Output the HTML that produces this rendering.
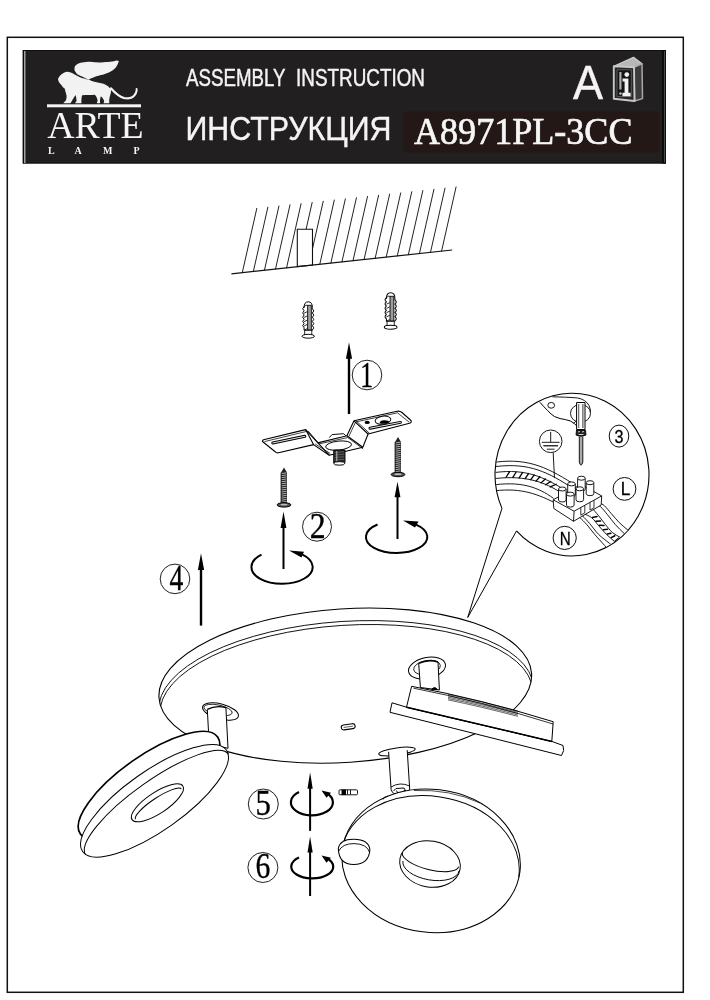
<!DOCTYPE html>
<html><head><meta charset="utf-8">
<style>
html,body{margin:0;padding:0;background:#fff;width:710px;height:1000px;overflow:hidden}
svg{display:block;will-change:transform}
</style></head>
<body>
<svg width="710" height="1000" viewBox="0 0 710 1000">
<rect x="0" y="0" width="710" height="1000" fill="#fff"/>
<rect x="7.3" y="37.3" width="676" height="955" fill="none" stroke="#111" stroke-width="1.5"/>
<rect x="23" y="50" width="643" height="113.5" fill="#211f1f"/>
<rect x="662" y="50" width="4" height="113.5" fill="#0c0c0c"/><rect x="664" y="51" width="0.9" height="111.5" fill="#555"/><rect x="23" y="50" width="643" height="0.8" fill="#0c0c0c"/><rect x="23" y="162.6" width="643" height="0.9" fill="#0c0c0c"/>
<rect x="22.6" y="50" width="1" height="113.5" fill="#000"/>
<rect x="24.2" y="51" width="1.2" height="112" fill="#c4c4c4"/>
<rect x="403" y="111.5" width="256" height="41" fill="#231816"/>
<g fill="#f4f4f4" stroke="#f4f4f4" stroke-width="0.45" font-family="Liberation Sans, sans-serif">
<text x="186" y="85.6" font-size="24" textLength="99.5" lengthAdjust="spacingAndGlyphs">ASSEMBLY</text><text x="296" y="85.6" font-size="24" textLength="129" lengthAdjust="spacingAndGlyphs">INSTRUCTION</text>
<text x="185.5" y="139.7" font-size="33.3" textLength="206" lengthAdjust="spacingAndGlyphs">ИНСТРУКЦИЯ</text>
<text x="573" y="99.2" font-size="48" textLength="30" lengthAdjust="spacingAndGlyphs">A</text>
</g>
<g fill="#f6f6f6" font-family="Liberation Serif, serif">
<text x="414" y="144.4" font-size="38" textLength="218.5" lengthAdjust="spacingAndGlyphs" stroke="#f6f6f6" stroke-width="0.7">A8971PL-3CC</text>
<text x="47.2" y="138" font-size="38" textLength="96.5" lengthAdjust="spacingAndGlyphs">ARTE</text>
<text x="48" y="153.5" font-size="10" font-weight="bold">L</text>
<text x="74.5" y="153.5" font-size="10" font-weight="bold">A</text>
<text x="103" y="153.5" font-size="10" font-weight="bold">M</text>
<text x="133.5" y="153.5" font-size="10" font-weight="bold">P</text>
</g>
<rect x="47" y="104.3" width="94" height="3" fill="#f4f4f4"/>
<g stroke="#222" stroke-width="1" fill="none" stroke-linecap="round"><line x1="256.8" y1="208.4" x2="242.3" y2="272.6"/><line x1="267.87" y1="207.21" x2="253.37" y2="271.41"/><line x1="278.94" y1="206.02" x2="264.44" y2="270.22"/><line x1="290.01" y1="204.83" x2="275.51" y2="269.03"/><line x1="301.08" y1="203.64" x2="286.58" y2="267.84"/><line x1="312.15" y1="202.45" x2="297.65" y2="266.65"/><line x1="323.22" y1="201.26" x2="308.72" y2="265.46"/><line x1="334.29" y1="200.07" x2="319.79" y2="264.27"/><line x1="345.36" y1="198.88" x2="330.86" y2="263.08"/><line x1="356.43" y1="197.69" x2="341.93" y2="261.89"/><line x1="367.5" y1="196.5" x2="353" y2="260.7"/><line x1="378.57" y1="195.31" x2="364.07" y2="259.51"/><line x1="389.64" y1="194.12" x2="375.14" y2="258.32"/><line x1="400.71" y1="192.93" x2="386.21" y2="257.13"/><line x1="411.78" y1="191.74" x2="397.28" y2="255.94"/><line x1="422.85" y1="190.55" x2="408.35" y2="254.75"/><line x1="433.92" y1="189.36" x2="419.42" y2="253.56"/><line x1="444.99" y1="188.17" x2="430.49" y2="252.37"/><line x1="456.06" y1="186.98" x2="441.56" y2="251.18"/></g>
<polygon points="297.3,229.3 312.5,229.3 312.5,265 297.3,266.6" fill="#fff" stroke="#111" stroke-width="1.1"/>
<line x1="231.4" y1="273.8" x2="452.1" y2="250" stroke="#111" stroke-width="1.2"/>
<g transform="translate(302,301.5) scale(1.04,1.01)" stroke="#000" stroke-width="0.95" fill="#fff" stroke-linejoin="round"><path d="M2,28.5 L2,26 Q-0.6,23.9 2,21.8 Q-0.6,19.7 2,17.6 Q-0.6,15.5 2,13.4 Q-0.6,11.3 2,9.2 Q-0.6,7.1 2,5 L2,6 Q2,0.3 6,0.3 Q10,0.3 10,6 L10,7.2 Q12.6,9.3 10,11.4 L10,11.4 Q12.6,13.5 10,15.6 L10,15.6 Q12.6,17.7 10,19.8 L10,19.8 Q12.6,21.9 10,24 L10,24 Q12.6,26.1 10,28.2 L10,28.5 Z"/><line x1="2" y1="11.6" x2="5.2" y2="10" stroke-width="0.8"/><line x1="2" y1="15.8" x2="5.2" y2="14.2" stroke-width="0.8"/><line x1="2" y1="20" x2="5.2" y2="18.4" stroke-width="0.8"/><line x1="2" y1="24.2" x2="5.2" y2="22.6" stroke-width="0.8"/><line x1="2" y1="28.4" x2="5.2" y2="26.8" stroke-width="0.8"/><rect x="5.4" y="3.8" width="3.6" height="24.5" fill="#9d9d9d" stroke-width="0.85"/><path d="M2.3,5 Q3.5,3 5.4,3.8" fill="none" stroke-width="0.8"/><rect x="2.6" y="28.5" width="6.8" height="4.6" fill="#fff" stroke-width="0.85"/><ellipse cx="6" cy="34.4" rx="6" ry="1.9" fill="#fff" stroke-width="0.95"/></g>
<g transform="translate(384.3,292.5) scale(1.06,1.01)" stroke="#000" stroke-width="0.95" fill="#fff" stroke-linejoin="round"><path d="M2,28.5 L2,26 Q-0.6,23.9 2,21.8 Q-0.6,19.7 2,17.6 Q-0.6,15.5 2,13.4 Q-0.6,11.3 2,9.2 Q-0.6,7.1 2,5 L2,6 Q2,0.3 6,0.3 Q10,0.3 10,6 L10,7.2 Q12.6,9.3 10,11.4 L10,11.4 Q12.6,13.5 10,15.6 L10,15.6 Q12.6,17.7 10,19.8 L10,19.8 Q12.6,21.9 10,24 L10,24 Q12.6,26.1 10,28.2 L10,28.5 Z"/><line x1="2" y1="11.6" x2="5.2" y2="10" stroke-width="0.8"/><line x1="2" y1="15.8" x2="5.2" y2="14.2" stroke-width="0.8"/><line x1="2" y1="20" x2="5.2" y2="18.4" stroke-width="0.8"/><line x1="2" y1="24.2" x2="5.2" y2="22.6" stroke-width="0.8"/><line x1="2" y1="28.4" x2="5.2" y2="26.8" stroke-width="0.8"/><rect x="5.4" y="3.8" width="3.6" height="24.5" fill="#9d9d9d" stroke-width="0.85"/><path d="M2.3,5 Q3.5,3 5.4,3.8" fill="none" stroke-width="0.8"/><rect x="2.6" y="28.5" width="6.8" height="4.6" fill="#fff" stroke-width="0.85"/><ellipse cx="6" cy="34.4" rx="6" ry="1.9" fill="#fff" stroke-width="0.95"/></g>
<line x1="349" y1="357.7" x2="349" y2="414" stroke="#000" stroke-width="2.4"/><polygon points="349,342.4 345.9,358.7 352.1,358.7" fill="#000"/>
<line x1="283.5" y1="526.9" x2="283.5" y2="569" stroke="#000" stroke-width="2"/><polygon points="283.5,511.6 280.6,527.9 286.4,527.9" fill="#000"/>
<line x1="397.5" y1="496.3" x2="397.5" y2="539" stroke="#000" stroke-width="2"/><polygon points="397.5,481.4 394.6,497.3 400.4,497.3" fill="#000"/>
<line x1="201" y1="568.9" x2="201" y2="625.6" stroke="#000" stroke-width="2.4"/><polygon points="201,553.5 197.9,569.9 204.1,569.9" fill="#000"/>
<line x1="310.1" y1="787.8" x2="310.1" y2="830.9" stroke="#000" stroke-width="2"/><polygon points="310.1,772.3 307.5,788.8 312.7,788.8" fill="#000"/>
<line x1="310.1" y1="851.5" x2="310.1" y2="896" stroke="#000" stroke-width="2"/><polygon points="310.1,836.4 307.5,852.5 312.7,852.5" fill="#000"/>
<path d="M261.5,554.6 A30.6,16.8 0 1 0 302,554.3" fill="none" stroke="#000" stroke-width="2"/><polygon points="289,550.6 304,551.8 301.5,557.5" fill="#000"/>
<path d="M377.5,524.5 A30.7,16 0 1 0 416,524.6" fill="none" stroke="#000" stroke-width="2"/><polygon points="403,520.5 418.5,521.5 415,527.5" fill="#000"/>
<path d="M299,792.1 A21,13 0 1 0 326.5,793" fill="none" stroke="#000" stroke-width="2.2"/><polygon points="321.5,790.6 331,792.8 326.5,797.8" fill="#000"/>
<path d="M299,857.5 A21,11.8 0 1 0 326.5,858" fill="none" stroke="#000" stroke-width="2.2"/><polygon points="321.5,855.5 331,857.8 326.5,862.8" fill="#000"/>
<circle cx="367" cy="375" r="14.8" fill="none" stroke="#222" stroke-width="1"/><text transform="translate(366.6 386.9) scale(0.72 1)" x="0" y="0" font-family="Liberation Serif, serif" font-size="35.7" text-anchor="middle" fill="#000" stroke="#000" stroke-width="0.35">1</text>
<circle cx="317" cy="526.7" r="14.5" fill="none" stroke="#222" stroke-width="1"/><text transform="translate(317.8 538) scale(0.89 1)" x="0" y="0" font-family="Liberation Serif, serif" font-size="35.7" text-anchor="middle" fill="#000" stroke="#000" stroke-width="0.35">2</text>
<circle cx="175" cy="578.9" r="14.8" fill="none" stroke="#222" stroke-width="1"/><text transform="translate(176.5 590.1) scale(0.77 1)" x="0" y="0" font-family="Liberation Serif, serif" font-size="35.7" text-anchor="middle" fill="#000" stroke="#000" stroke-width="0.35">4</text>
<circle cx="263.3" cy="804" r="15" fill="none" stroke="#222" stroke-width="1"/><text transform="translate(263.1 815) scale(0.86 1)" x="0" y="0" font-family="Liberation Serif, serif" font-size="35.7" text-anchor="middle" fill="#000" stroke="#000" stroke-width="0.35">5</text>
<circle cx="262.9" cy="867.5" r="15" fill="none" stroke="#222" stroke-width="1"/><text transform="translate(263 878.2) scale(0.83 1)" x="0" y="0" font-family="Liberation Serif, serif" font-size="35.7" text-anchor="middle" fill="#000" stroke="#000" stroke-width="0.35">6</text>
<defs><clipPath id="plateclip"><ellipse cx="345.3" cy="685.6" rx="186.7" ry="76.8" transform="rotate(-3.73 345.3 685.6)"/></clipPath></defs>
<g transform="rotate(-3.73 345.3 685.6)">
<ellipse cx="345.3" cy="685.6" rx="186.7" ry="76.8" fill="#fff" stroke="#000" stroke-width="1.1"/>
</g>
<g clip-path="url(#plateclip)"><g transform="rotate(-3.73 345.3 685.6)">
<path d="M157.6,698.6 A186.7,76.8 0 0 1 533,698.6" fill="none" stroke="#000" stroke-width="0.9"/>
<path d="M158.6,702.2 A185.7,76.5 0 0 1 532,702.2" fill="none" stroke="#000" stroke-width="0.9"/>
</g></g>
<g transform="rotate(-8 348.2 726.8)"><rect x="341.2" y="724.3" width="14" height="5" rx="2.5" fill="#fff" stroke="#000" stroke-width="1.1"/><line x1="343.5" y1="726.8" x2="353" y2="726.8" stroke="#000" stroke-width="0.6"/></g>
<path fill="#f2f2f2" d="M74.8,71.1 C74,68.5 74.5,66 76.1,65 C78,63.2 80,62.6 82.1,62.4 C85,61.8 88,61.6 90.2,61.7 C94,62 97.5,62.6 100.9,62.4 C104.5,62.2 107.5,61.9 110.2,61.7 C113,61.4 115,60.8 116.9,60.4 L118.9,61 C118,64 117,66 115.6,67.7 C113.5,70 111.5,71.3 108.9,72.4 C106,73.7 103.5,74.4 100.9,75.1 C97.5,76 95,76.8 92.8,77.8 C90.5,78.6 89.5,79.2 88.8,79.8 C86,78.4 84,77.4 82.1,76.4 C79.5,75.3 77.5,74.6 76.8,73.7 Z"/>
<path fill="#f2f2f2" d="M58,79.1 C58.8,77.3 59.6,76 60.7,75.1 C62.8,73 65,71.9 67.4,71.7 C69.8,71.9 71.8,72.7 73.4,73.7 C75.5,74.9 77.5,76 79.5,77.1 C82.5,78.4 85.5,79.2 88.8,79.8 C91,80.7 92.5,81.3 94.2,81.8 C97.5,82.6 100.5,83.1 103.5,83.8 C106.5,85 108.5,86.6 110.2,88.5 L110.9,87.1 C112.8,89.2 114.8,91.2 116.9,93.1 C119.5,95.5 122,97 125,97.8 C127.5,98.3 129.8,98.2 131.7,97.2 C133.5,96 134.8,94.5 135.7,92.5 C136.2,91.2 136.4,90.2 136.3,89.1 L137.2,89.4 C137.5,91 137.2,92.8 136.2,94.5 C134.8,96.8 132.8,98.4 130.3,99 C127.5,99.6 124.8,99.4 122.3,98.4 C118.8,96.9 116,94.6 113.4,92 C112.5,91.2 111.6,90.4 111,89.8 C111,92 110.8,93.6 110.2,95.2 C109.4,97.5 109,100 109.3,103.2 L103.5,103.2 L104.2,101.2 C103.6,99.2 102.5,97.6 100.9,96.2 C100,98.5 99.8,100.8 100.2,103.2 L96.8,103.2 L97.6,100.5 C97.2,98.5 96.5,96.6 94.8,94.8 C91,95 86.5,95.2 82.1,95.2 C81.5,97.5 81.2,100.2 81.5,103.2 L74.8,103.2 L76.5,101.2 C76.5,98.8 76.2,96.8 75.5,95 C74.2,97.4 72.2,100 70.5,103.2 L63.2,103.2 L65.8,100.6 C66.8,98.2 66.9,96 66.1,93.8 C65.5,91.8 65,90 64.7,88.5 C63.2,87.6 62.3,86.8 62,85.8 C60.6,84.5 59.6,83.2 58.7,81.8 Z"/>
<path d="M111,88.5 C114,91.8 118.5,96.5 124,97.9 C129,99 133.5,97.2 135.5,93.5 C136.5,91.8 136.8,90.2 136.6,89" fill="none" stroke="#f2f2f2" stroke-width="1.9" stroke-linecap="round"/>
<g stroke-linejoin="round">
<path d="M613.8,66.3 L633.5,57.3 L642,63.8 L634,67.2 Z" fill="#b8b8b8" stroke="#cfcfcf" stroke-width="1.2"/>
<path d="M634,67.2 L642,63.8 L642.5,98.6 L634.5,101 Z" fill="#3c3c3c" stroke="#a8a8a8" stroke-width="1.5"/>
<path d="M613.8,66.3 L634,67.2 L634.5,101 L613.8,98.8 Z" fill="#262626" stroke="#c8c8c8" stroke-width="1.9"/>
<rect x="617" y="69.8" width="14.3" height="26.8" fill="#151515" stroke="#6a6a6a" stroke-width="0.8"/>
<rect x="619.3" y="72" width="2.2" height="17.5" fill="#b0b0b0"/>
<circle cx="620.4" cy="93.6" r="1.4" fill="#b0b0b0"/>
<circle cx="626.8" cy="74.6" r="2.4" fill="#f2f2f2"/>
<path d="M622.6,78.4 L628.4,78.4 L628.4,92.8 L630.6,92.8 L630.6,96.2 L622.4,96.2 L622.4,92.8 L624.6,92.8 L624.6,81.4 L622.6,81.4 Z" fill="#f2f2f2"/>
</g>
<g stroke="#000" stroke-width="1.1" stroke-linejoin="round" fill="#fff"><path d="M263.5,439.8 L305.6,429.6 L317.9,442.9 L346.9,435.8 L354,420.8 L397.1,411.2 Q400,410.8 402,412.5 L411,420.5 Q412,422.6 409.5,423.3 L368.1,434 L362.8,447.3 L329.3,455.2 L313.5,444.6 L278.5,452.8 Q276.5,453.2 275.5,452 L262.5,441.5 Q262.3,440.2 263.5,439.8 Z"/><path d="M305.6,429.6 L313.5,444.6 M346.9,435.8 L362.8,447.3 M354,420.8 L368.1,434 M317.9,442.9 L329.3,455.2" fill="none"/><path d="M264.5,441.6 L306.2,431.5 M308.2,431 L319.2,443.9 L347.8,437.5 L363.2,449 M348.8,436.5 L355.6,422 L397.5,412.8 L409.2,422.2 M356,420.8 L369.5,433.3 M315.2,444 L330.3,453.5" fill="none" stroke-width="0.75"/><path d="M329.3,437.6 L332,434.6 L343.4,433.7 L346,435.8" fill="#fff" stroke-width="0.95"/><ellipse cx="338.6" cy="445.6" rx="13" ry="4.5" transform="rotate(-6 338.6 445.6)" stroke-width="0.95"/><path d="M272.8,443 L304.8,436.3" stroke-width="3" stroke-linecap="round"/><path d="M272.8,443 L304.8,436.3" stroke="#fff" stroke-width="0.9" stroke-linecap="round"/><path d="M370,428.2 L400.4,422.4" stroke-width="3" stroke-linecap="round"/><path d="M370,428.2 L400.4,422.4" stroke="#fff" stroke-width="0.9" stroke-linecap="round"/><ellipse cx="367.2" cy="422.4" rx="2.6" ry="1.7" fill="#000" stroke="none"/><ellipse cx="383" cy="420.2" rx="7.9" ry="4" transform="rotate(-8 383 420.2)" stroke-width="0.95"/><path d="M379.5,423.3 Q380,420 384.5,420.2 Q389,420.3 389.5,422.3 Q385,424.8 379.5,423.3 Z" fill="#000" stroke="none"/><rect x="333.7" y="450" width="11.3" height="13.2" fill="#2a2a2a" stroke="#000" stroke-width="0.9"/><line x1="334.5" y1="452.5" x2="344.2" y2="451.7" stroke="#888" stroke-width="0.5"/><line x1="334.5" y1="455" x2="344.2" y2="454.2" stroke="#888" stroke-width="0.5"/><line x1="334.5" y1="457.5" x2="344.2" y2="456.7" stroke="#888" stroke-width="0.5"/><line x1="334.5" y1="460" x2="344.2" y2="459.2" stroke="#888" stroke-width="0.5"/><line x1="336.8" y1="451" x2="336.8" y2="462" stroke="#ccc" stroke-width="0.9"/><ellipse cx="339.3" cy="463.4" rx="5.5" ry="1.8" fill="#fff" stroke="#000" stroke-width="1"/></g>
<g><path d="M281,504 L281,472.6 L284,467.6 L287,472.6 L287,504 Z" fill="#222"/><line x1="281.4" y1="473.6" x2="286.6" y2="472.8" stroke="#eee" stroke-width="0.7"/><line x1="281.4" y1="475.65" x2="286.6" y2="474.85" stroke="#eee" stroke-width="0.7"/><line x1="281.4" y1="477.7" x2="286.6" y2="476.9" stroke="#eee" stroke-width="0.7"/><line x1="281.4" y1="479.75" x2="286.6" y2="478.95" stroke="#eee" stroke-width="0.7"/><line x1="281.4" y1="481.8" x2="286.6" y2="481" stroke="#eee" stroke-width="0.7"/><line x1="281.4" y1="483.85" x2="286.6" y2="483.05" stroke="#eee" stroke-width="0.7"/><line x1="281.4" y1="485.9" x2="286.6" y2="485.1" stroke="#eee" stroke-width="0.7"/><line x1="281.4" y1="487.95" x2="286.6" y2="487.15" stroke="#eee" stroke-width="0.7"/><line x1="281.4" y1="490" x2="286.6" y2="489.2" stroke="#eee" stroke-width="0.7"/><line x1="281.4" y1="492.05" x2="286.6" y2="491.25" stroke="#eee" stroke-width="0.7"/><line x1="281.4" y1="494.1" x2="286.6" y2="493.3" stroke="#eee" stroke-width="0.7"/><line x1="281.4" y1="496.15" x2="286.6" y2="495.35" stroke="#eee" stroke-width="0.7"/><line x1="281.4" y1="498.2" x2="286.6" y2="497.4" stroke="#eee" stroke-width="0.7"/><line x1="281.4" y1="500.25" x2="286.6" y2="499.45" stroke="#eee" stroke-width="0.7"/><line x1="281.4" y1="502.3" x2="286.6" y2="501.5" stroke="#eee" stroke-width="0.7"/><path d="M281,472.6 L281,504" stroke="#000" stroke-width="0.7"/><ellipse cx="284" cy="504.9" rx="6.9" ry="2.2" fill="#555" stroke="#000" stroke-width="1"/><ellipse cx="284" cy="504.6" rx="3.5" ry="0.9" fill="#bbb"/></g>
<g><path d="M395,473.6 L395,442 L398,437 L401,442 L401,473.6 Z" fill="#222"/><line x1="395.4" y1="443" x2="400.6" y2="442.2" stroke="#eee" stroke-width="0.7"/><line x1="395.4" y1="445.05" x2="400.6" y2="444.25" stroke="#eee" stroke-width="0.7"/><line x1="395.4" y1="447.1" x2="400.6" y2="446.3" stroke="#eee" stroke-width="0.7"/><line x1="395.4" y1="449.15" x2="400.6" y2="448.35" stroke="#eee" stroke-width="0.7"/><line x1="395.4" y1="451.2" x2="400.6" y2="450.4" stroke="#eee" stroke-width="0.7"/><line x1="395.4" y1="453.25" x2="400.6" y2="452.45" stroke="#eee" stroke-width="0.7"/><line x1="395.4" y1="455.3" x2="400.6" y2="454.5" stroke="#eee" stroke-width="0.7"/><line x1="395.4" y1="457.35" x2="400.6" y2="456.55" stroke="#eee" stroke-width="0.7"/><line x1="395.4" y1="459.4" x2="400.6" y2="458.6" stroke="#eee" stroke-width="0.7"/><line x1="395.4" y1="461.45" x2="400.6" y2="460.65" stroke="#eee" stroke-width="0.7"/><line x1="395.4" y1="463.5" x2="400.6" y2="462.7" stroke="#eee" stroke-width="0.7"/><line x1="395.4" y1="465.55" x2="400.6" y2="464.75" stroke="#eee" stroke-width="0.7"/><line x1="395.4" y1="467.6" x2="400.6" y2="466.8" stroke="#eee" stroke-width="0.7"/><line x1="395.4" y1="469.65" x2="400.6" y2="468.85" stroke="#eee" stroke-width="0.7"/><line x1="395.4" y1="471.7" x2="400.6" y2="470.9" stroke="#eee" stroke-width="0.7"/><path d="M395,442 L395,473.6" stroke="#000" stroke-width="0.7"/><ellipse cx="398" cy="474.5" rx="6.9" ry="2.2" fill="#555" stroke="#000" stroke-width="1"/><ellipse cx="398" cy="474.2" rx="3.5" ry="0.9" fill="#bbb"/></g>
<g stroke="#000" stroke-width="1" fill="#fff"><ellipse cx="220.5" cy="711.5" rx="18.5" ry="7.5" transform="rotate(15 220.5 711.5)"/><ellipse cx="218" cy="710" rx="14.5" ry="5" transform="rotate(12 218 710)" stroke-width="0.8"/><path d="M207.3,709.4 L209.2,744 L228,748.3 L225.9,707.7" /><path d="M207.3,709.4 Q216,705 225.9,707.7" fill="none" stroke-width="1.3"/><path d="M208.8,737 Q211,736 211.5,739 L211.5,744" fill="none" stroke-width="1.2"/><ellipse cx="427" cy="668" rx="18.8" ry="10.5" transform="rotate(-12 427 668)"/><ellipse cx="427" cy="667.5" rx="13.5" ry="7" transform="rotate(-10 427 667.5)" stroke-width="0.8"/><path d="M418.7,663.4 L420.4,687.5 L439.4,690 L438,662" /><path d="M418.7,663.4 Q428,659 438,662" fill="none" stroke-width="1.4"/><path d="M431.5,689.5 Q434.5,685.5 437.5,689.5 Z" fill="#000" stroke-width="0.8"/><ellipse cx="397" cy="751.5" rx="18.4" ry="3.6" transform="rotate(-8 397 751.5)"/><path d="M388.6,751.8 L391.1,789.5 Q393,795 399,795.5 Q407,795 409.7,789 L407.2,750.1"/><path d="M391,787 Q400,781.5 409.6,786" fill="none" stroke-width="0.9"/><path d="M393.5,791 L396,788.5 L404,788 L406,791.5 M396.5,790.5 L398,793.5 L403.5,793 L404.5,790" fill="none" stroke-width="1"/></g>
<g stroke="#000" stroke-width="1" fill="#fff" stroke-linejoin="round"><path d="M392,702.8 L406.5,707.2 L551.8,741.4 L563,745.5 Q565,750.5 561.5,755.5 L390,712.3 Z"/><path d="M411.6,686.3 Q480,699 553.2,721.7 L551.8,741.4 L406.5,707.2 Z"/><path d="M413.5,688.2 Q480,701 553,724" fill="none" stroke-width="0.8"/><path d="M406.5,707.2 L551.8,741.4" fill="none" stroke-width="1.5"/><path d="M448,694.5 Q480,701 518,711" fill="none" stroke-width="0.6"/><path d="M448,695.85 Q480,702.35 518,712.35" fill="none" stroke-width="0.6"/><path d="M448,697.2 Q480,703.7 518,713.7" fill="none" stroke-width="0.6"/><path d="M448,698.55 Q480,705.05 518,715.05" fill="none" stroke-width="0.6"/><path d="M448,699.9 Q480,706.4 518,716.4" fill="none" stroke-width="0.6"/></g>
<g stroke="#000" fill="#fff" stroke-linejoin="round"><g transform="rotate(-35.2 149 785.5)"><ellipse cx="149" cy="785.5" rx="84" ry="29.5" stroke-width="1.7"/></g><g transform="rotate(-35.2 154.5 800.8)"><ellipse cx="154.5" cy="800.8" rx="88" ry="29.7" stroke-width="1"/><path d="M67.1,805.5 A87.4,24.5 0 0 1 241.9,805.5" fill="none" stroke-width="1"/></g><g transform="rotate(-33.5 157.4 802.8)"><ellipse cx="157.4" cy="802.8" rx="30.5" ry="10.5" stroke-width="1"/><path d="M130,804.5 A27.5,6.5 0 0 1 185,804.5" fill="none" stroke-width="1"/></g></g>
<g stroke="#000" fill="#fff" stroke-linejoin="round"><g transform="rotate(7 431.1 860.8)"><ellipse cx="431.1" cy="860.8" rx="89.5" ry="71.5" stroke-width="1.05"/></g><g transform="rotate(8.6 430.2 863.9)"><path d="M340.7,863.9 A89.5,67.7 0 0 1 519.7,863.9" fill="none" stroke-width="0.95"/></g><path d="M384,797.5 L383,799.5 M384,797.5 L388,796" fill="none" stroke-width="0.9"/><path d="M414,790.5 Q450,789 480,803" fill="none" stroke-width="0.7"/><g transform="rotate(10 430 864)"><ellipse cx="430" cy="864" rx="30.5" ry="23" stroke-width="1"/></g><g transform="rotate(14 430.5 859.7)"><path d="M401.5,859.7 A29,10 0 0 0 459.5,859.7" fill="none" stroke-width="1"/></g><g transform="rotate(10 431 866)"><path d="M402.5,866 A28.5,14 0 0 0 459.5,866" fill="none" stroke-width="0.9"/></g><path d="M338.3,848.5 Q340,839 354,839.3 Q368.5,839.5 369.9,849.5 Q369,864.4 353.7,864.6 Q338.8,864.4 338.3,848.5 Z" stroke-width="1.05"/><path d="M338.5,851.5 Q342,843.5 354,843.6 Q367,843.8 369.7,852.5" fill="none" stroke-width="0.9"/></g>
<g stroke="#000" stroke-width="0.9"><rect x="339" y="789.8" width="18.5" height="5" rx="1" fill="#fff"/><rect x="342" y="790" width="3.5" height="4.6" fill="#000"/><line x1="347.5" y1="790" x2="347.5" y2="794.6"/><line x1="350.5" y1="790" x2="350.5" y2="794.6"/></g>
<g stroke="#000" fill="none" stroke-linejoin="round"><path d="M516.52,530.97 A77,81.3 0 1 0 501.96,508.37" fill="#fff" stroke-width="1.1"/><path d="M501.96,508.37 L467.7,617.5 L516.52,530.97" stroke-width="1"/><path d="M539.9,402.3 Q544,407 547.8,410.7 Q551,414.5 554.7,416.6 Q560,419 565.5,419.6 Q571,420.5 574.4,423.5 L578.3,427.5" stroke-width="1"/><path d="M552.5,396.8 Q566,397 577.3,397.9 Q586,399.5 589.2,405.8 Q591,410 590.2,413" stroke-width="0.9"/><ellipse cx="551.2" cy="405.3" rx="3.4" ry="2.9" stroke-width="0.9"/><ellipse cx="580.5" cy="413.4" rx="10" ry="9" fill="#fff" stroke-width="0.9"/><path d="M573.4,423.5 L578,419.5 L582,423" stroke-width="0.8"/><rect x="576.6" y="402.5" width="8.4" height="27" fill="#fff" stroke-width="1"/><rect x="578" y="404" width="5.6" height="24" fill="#777" stroke="none"/><rect x="579.3" y="404" width="2.8" height="24" fill="#fff" stroke="none"/><path d="M576.5,430 L585.5,430 L586,435 Q581,438 576,435 Z" fill="#222" stroke-width="0.8"/><path d="M578,432 L580,431.5 M582,432 L584,431.5 M578.5,434.5 L583.5,434.5" stroke="#fff" stroke-width="0.8"/><path d="M579.3,436.8 L579.3,462 Q581,468.5 582.8,462 L582.8,436.8" fill="#aaa" stroke-width="0.9"/><circle cx="550.7" cy="441.3" r="11.3" fill="#fff" stroke-width="0.9"/><path d="M550.7,432 L550.7,442.3 M541.8,442.3 L559.6,442.3 M543.5,445.7 L558,445.7 M546.8,449.2 L554.5,449.2" stroke-width="0.9"/><path d="M543.5,445.7 L558,445.7" stroke-width="1.3" stroke="#333"/><path d="M553.2,452.6 Q553.8,465 554.5,478" stroke-width="0.9"/><ellipse cx="619" cy="436.1" rx="9.8" ry="11" fill="#fff" stroke-width="0.95"/><circle cx="624.5" cy="488.9" r="11.4" fill="#fff" stroke-width="0.95"/><circle cx="564.7" cy="537.9" r="11.6" fill="#fff" stroke-width="0.95"/></g>
<g font-family="Liberation Sans, sans-serif" fill="#000" stroke="#000" stroke-width="0.3" text-anchor="middle"><text x="619" y="443" font-size="19" textLength="9" lengthAdjust="spacingAndGlyphs">3</text><text x="625.5" y="494.8" font-size="19" textLength="9.5" lengthAdjust="spacingAndGlyphs">L</text><text x="565.2" y="544.5" font-size="19" textLength="11" lengthAdjust="spacingAndGlyphs">N</text></g>
<defs><clipPath id="insetclip"><ellipse cx="572" cy="474.6" rx="76.5" ry="80.8"/></clipPath></defs>
<g clip-path="url(#insetclip)" stroke="#000" fill="none" stroke-width="0.9" stroke-linecap="round"><path d="M509.47,471.9 L506.02,477.26" stroke-width="1.3"/><path d="M516.17,471.99 L512.82,477.33" stroke-width="1.3"/><path d="M522.5,472.54 L519.19,477.78" stroke-width="1.3"/><path d="M528.51,473.53 L525.16,478.59" stroke-width="1.3"/><path d="M534.27,474.94 L530.77,479.72" stroke-width="1.3"/><path d="M539.86,476.73 L536.04,481.16" stroke-width="1.3"/><path d="M545.34,478.9 L541,482.86" stroke-width="1.3"/><path d="M550.77,481.42 L545.69,484.81" stroke-width="1.3"/><path d="M556.23,484.26 L550.12,486.96" stroke-width="1.3"/><path d="M490,463 C525,457 545,466 572,483"/><path d="M490,467.4 C525,461.5 545,470.5 568.3,485.4"/><path d="M490,473.2 C522,468 540,475 562.3,488.4"/><path d="M490,479.2 C522,474.5 542,481 557.8,490.7"/><path d="M490,485.5 C520,480.5 538,487 553.3,498.2"/><path d="M490,491.5 C518,487 535,493 553.3,502"/><path d="M574.4,514.2 C575.32,514.78 577.83,515.97 579.9,517.7 C581.97,519.43 584.33,521.82 586.8,524.6 C589.27,527.38 591.75,530.95 594.7,534.4 C597.65,537.85 601.62,542.2 604.5,545.3 C607.38,548.4 610.75,551.72 612,553 L635,536 L627.2,529.5 L619.3,522.6 L611.4,513.7 L604.5,505.8 L599.6,502.9 Z" fill="#fff" stroke="none"/><path d="M574.4,514.2 C575.32,514.78 577.83,515.97 579.9,517.7 C581.97,519.43 584.33,521.82 586.8,524.6 C589.27,527.38 591.75,530.95 594.7,534.4 C597.65,537.85 601.62,542.2 604.5,545.3 C607.38,548.4 610.75,551.72 612,553"/><path d="M579,513.5 C579.63,513.95 581.02,514.52 582.8,516.2 C584.58,517.88 587.07,520.57 589.7,523.6 C592.33,526.63 595.32,531.12 598.6,534.4 C601.88,537.68 606.33,540.7 609.4,543.3 C612.47,545.9 615.73,548.88 617,550"/><path d="M583.8,513.7 C585.12,514.37 589.23,515.72 591.7,517.7 C594.17,519.68 596.13,522.82 598.6,525.6 C601.07,528.38 603.87,531.77 606.5,534.4 C609.13,537.03 611.82,539.13 614.4,541.4 C616.98,543.67 620.73,546.9 622,548"/><path d="M592.7,508.8 C593.68,509.95 596.47,513.07 598.6,515.7 C600.73,518.33 603.2,521.8 605.5,524.6 C607.8,527.4 609.93,530.37 612.4,532.5 C614.87,534.63 617.7,535.82 620.3,537.4 C622.9,538.98 626.72,541.23 628,542"/><path d="M594.7,503.9 C595.68,504.38 598.47,505 600.6,506.8 C602.73,508.6 605.03,511.73 607.5,514.7 C609.97,517.67 612.62,521.47 615.4,524.6 C618.18,527.73 621.43,530.93 624.2,533.5 C626.97,536.07 630.7,538.92 632,540"/><path d="M599.6,502.9 C600.42,503.38 602.53,504 604.5,505.8 C606.47,507.6 608.93,510.9 611.4,513.7 C613.87,516.5 616.67,519.97 619.3,522.6 C621.93,525.23 624.58,527.27 627.2,529.5 C629.82,531.73 633.7,534.92 635,536"/><path d="M592.5,517.4 L597.1,516.5" stroke-width="1.5"/><path d="M595.95,521.35 L600.55,520.95" stroke-width="1.5"/><path d="M599.4,525.3 L604,525.4" stroke-width="1.5"/><path d="M603.35,529.7 L607.45,529.35" stroke-width="1.5"/><path d="M607.3,534.1 L610.9,533.3" stroke-width="1.5"/><path d="M611.25,537.6 L614.85,535.75" stroke-width="1.5"/><path d="M615.2,541.1 L618.8,538.2" stroke-width="1.5"/><path d="M619,544.4 L622.65,540.5" stroke-width="1.5"/></g>
<g stroke="#000" fill="#fff" stroke-width="0.9" stroke-linejoin="round"><path d="M553.2,499.8 L580.8,484.5 L601.7,495.9 L601.2,505 L573.5,521.3 L553.8,508.5 Z"/><path d="M553.2,499.8 L574.1,511.2 L573.5,521.3 M574.1,511.2 L601.7,495.9" fill="none"/><path d="M580.8,507.5 L580.8,515.1 L584.8,512.9 L584.8,505.3" fill="none" stroke-width="0.8"/><path d="M590,502.4 L590,510 L594,507.8 L594,500.2" fill="none" stroke-width="0.8"/><path d="M577.6,478.2 L577.6,489.2 A3.8,2 0 0 0 585.2,489.2 L585.2,478.2"/><ellipse cx="581.4" cy="478.2" rx="3.8" ry="2"/><path d="M586.2,482.7 L586.2,493.7 A3.8,2 0 0 0 593.8,493.7 L593.8,482.7"/><ellipse cx="590" cy="482.7" rx="3.8" ry="2"/><path d="M567.7,483.9 L567.7,494.9 A3.8,2 0 0 0 575.3,494.9 L575.3,483.9"/><ellipse cx="571.5" cy="483.9" rx="3.8" ry="2"/><path d="M576,488.8 L576,499.8 A3.8,2 0 0 0 583.6,499.8 L583.6,488.8"/><ellipse cx="579.8" cy="488.8" rx="3.8" ry="2"/><path d="M558.5,489 L558.5,500 A3.8,2 0 0 0 566.1,500 L566.1,489"/><ellipse cx="562.3" cy="489" rx="3.8" ry="2"/><path d="M566.5,494.1 L566.5,505.1 A3.8,2 0 0 0 574.1,505.1 L574.1,494.1"/><ellipse cx="570.3" cy="494.1" rx="3.8" ry="2"/></g></svg>
</body></html>
